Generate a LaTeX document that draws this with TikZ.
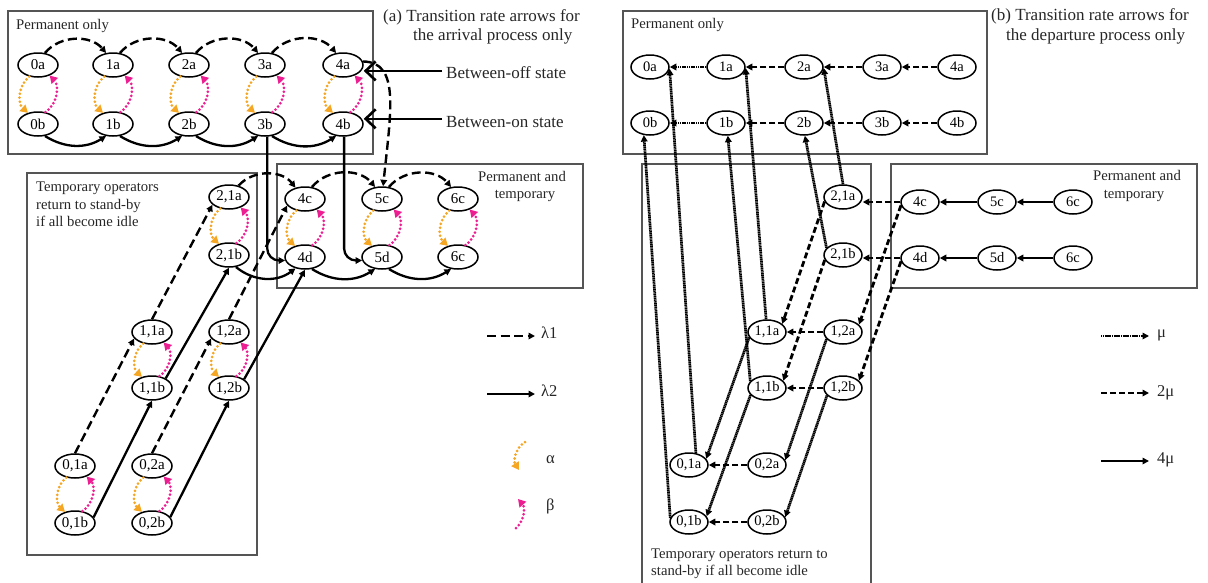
\documentclass[tikz,border=0pt]{standalone}
\usepackage{fontspec}
\setmainfont{Liberation Serif}
\usetikzlibrary{shapes.geometric,arrows.meta}
\definecolor{alphaorange}{RGB}{245,166,35}
\definecolor{betapink}{RGB}{236,30,145}
\definecolor{framegray}{RGB}{85,85,85}
\begin{document}
\begin{tikzpicture}[x=1pt,y=-1pt,
  state/.style={ellipse,draw,line width=1.5pt,minimum width=40pt,minimum height=24pt,inner sep=0pt,font=\fontsize{15}{15}\selectfont},
  stateb/.style={state,minimum width=38pt,minimum height=24pt,font=\fontsize{14.5}{15}\selectfont},
  frame/.style={draw=framegray,line width=1.1pt},
  boxtext/.style={font=\fontsize{14.7}{17}\selectfont,inner sep=0pt,text=black!85,anchor=base west},
  bigtext/.style={font=\fontsize{17}{20}\selectfont,inner sep=0pt,text=black!85,anchor=base west},
  legtext/.style={font=\fontsize{16.5}{18}\selectfont,inner sep=0pt,text=black!85,anchor=base west},
  tip/.style={-{Triangle[length=6.5pt,width=6.5pt]}},
  lamA/.style={tip,line width=2.4pt,dash pattern=on 9pt off 4.5pt},
  lamB/.style={tip,line width=2.3pt},
  alphaA/.style={draw=alphaorange,line width=3pt,line cap=round,dash pattern=on 0pt off 4pt,-{Triangle[length=7.5pt,width=8.5pt]}},
  betaA/.style={alphaA,draw=betapink},
  muB/.style={tip,line width=2.7pt,dash pattern=on 1.3pt off 0.5pt},
  twomuB/.style={tip,line width=2.8pt,dash pattern=on 6pt off 3pt},
  fourmuB/.style={tip,line width=2.8pt},
  barb/.style={line width=2.6pt,-{Straight Barb[length=10pt,width=19pt]}},
]
\useasboundingbox (0,0) rectangle (1208,582);

%% ---------------- (a) arrival process ----------------
\draw[frame] (8,11) rectangle (373,154);
\draw[frame] (27,173) rectangle (257,555);
\draw[frame] (277,164) rectangle (583,288);

\node[boxtext] (permAtxt) at (16,29.3) {Permanent only};
\node[boxtext] (tempAtxt1) at (36,191.7) {Temporary operators};
\node[boxtext] (tempAtxt2) at (36,209.3) {return to stand-by};
\node[boxtext] (tempAtxt3) at (36,226.5) {if all become idle};
\node[boxtext,anchor=base] (mixAtxt1) at (522,181.7) {Permanent and};
\node[boxtext,anchor=base] (mixAtxt2) at (525,198.3) {temporary};
\node[bigtext] (titleA1) at (383,21) {(a) Transition rate arrows for};
\node[bigtext] (titleA2) at (413,40.7) {the arrival process only};

% permanent-only states
\foreach \i/\x in {0/38,1/113,2/189,3/265,4/343}{
  \node[state] (aT\i) at (\x,65) {\i a};
  \node[state] (aB\i) at (\x,124) {\i b};
}
% temporary states
\node[state] (a21a) at (229,197) {2,1a};
\node[state] (a21b) at (229,255) {2,1b};
\node[state] (a11a) at (152,332) {1,1a};
\node[state] (a11b) at (152,388) {1,1b};
\node[state] (a12a) at (229,332) {1,2a};
\node[state] (a12b) at (229,388) {1,2b};
\node[state] (a01a) at (75,466) {0,1a};
\node[state] (a01b) at (75,523) {0,1b};
\node[state] (a02a) at (152,466) {0,2a};
\node[state] (a02b) at (152,523) {0,2b};
% permanent and temporary states
\node[state] (a4c) at (305,199) {4c};
\node[state] (a5c) at (382,199) {5c};
\node[state] (a6c) at (458,199) {6c};
\node[state] (a4d) at (305,257) {4d};
\node[state] (a5d) at (382,257) {5d};
\node[state] (a6d) at (458,257) {6c};

% arrivals along the permanent rows
\foreach \i [evaluate=\i as \j using int(\i+1)] in {0,...,3}{
  \draw[lamA] (aT\i.60) to[bend left=50] (aT\j.120);
  \draw[lamB] (aB\i.-60) to[bend right=32] (aB\j.-120);
}
% into the mixed box
\draw[lamB,rounded corners=12pt] (aB3.-80) |- (a4d.190);
\draw[lamB,rounded corners=12pt] (aB4.-85) |- (a5d.190);
\draw[lamA] (aT4.10) .. controls (400,62) and (391,110) .. (a5c.85);
\draw[lamA] (a21a.50) to[bend left=50] (a4c.130);
\draw[lamA] (a4c.60) to[bend left=50] (a5c.120);
\draw[lamA] (a5c.60) to[bend left=50] (a6c.120);
\draw[lamB] (a21b.-60) to[bend right=38] (a4d.-130);
\draw[lamB] (a4d.-60) to[bend right=32] (a5d.-120);
\draw[lamB] (a5d.-60) to[bend right=32] (a6d.-120);
% temporary diagonals
\draw[lamA] (a01a.north) -- (a11a.200);
\draw[lamA] (a11a.north) -- (a21a.205);
\draw[lamA] (a02a.north) -- (a12a.200);
\draw[lamA] (a12a.north) -- (a4c.200);
\draw[lamB] (a01b.17) -- (a11b.south);
\draw[lamB] (a11b.35) -- (a21b.south);
\draw[lamB] (a02b.18) -- (a12b.south);
\draw[lamB] (a12b.30) -- (a4d.south);

% on/off switching
\foreach \u/\d in {aT0/aB0,aT1/aB1,aT2/aB2,aT3/aB3,aT4/aB4,a21a/a21b,a11a/a11b,a12a/a12b,a01a/a01b,a02a/a02b,a4c/a4d,a5c/a5d,a6c/a6d}{
  \draw[alphaA] (\u.-127) to[bend right=50] (\d.132);
  \draw[betaA] (\d.58) to[bend right=50] (\u.-42);
}

% state annotations
\node[bigtext,inner xsep=4pt] (boff) at (442,78.3) {Between-off state};
\node[bigtext,inner xsep=4pt] (bon) at (442,127.3) {Between-on state};
\draw[barb] ([yshift=1.5pt]boff.west) -- ([yshift=1.5pt]boff.west -| aT4.east);
\draw[barb] ([yshift=3pt]bon.west) -- ([yshift=3pt]bon.west -| aB4.east);

% legend (a)
\coordinate (lgAa) at (487,336);  \coordinate (lgAb) at (535,336);
\coordinate (lgBa) at (487,394);  \coordinate (lgBb) at (535,394);
\coordinate (lgCa) at (525,442);  \coordinate (lgCb) at (519,470);
\coordinate (lgDa) at (516,528);  \coordinate (lgDb) at (518,499);
\draw[lamA] (lgAa) -- (lgAb);
\draw[lamB] (lgBa) -- (lgBb);
\draw[alphaA] (lgCa) to[bend right=45] (lgCb);
\draw[betaA] (lgDa) to[bend right=45] (lgDb);
\node[legtext] (lgAt) at (541,338.5) {λ1};
\node[legtext] (lgBt) at (541,396.5) {λ2};
\node[legtext] (lgCt) at (546,463) {α};
\node[legtext] (lgDt) at (546,510) {β};

%% ---------------- (b) departure process ----------------
\draw[frame] (623,11) rectangle (987,154);
\draw[frame] (642,164) rectangle (871,600);
\draw[frame] (891,164) rectangle (1197,288);

\node[boxtext] (permBtxt) at (631,28.3) {Permanent only};
\node[boxtext] (tempBtxt1) at (651,558.3) {Temporary operators return to};
\node[boxtext] (tempBtxt2) at (651,575.7) {stand-by if all become idle};
\node[boxtext,anchor=base] (mixBtxt1) at (1137,180.7) {Permanent and};
\node[boxtext,anchor=base] (mixBtxt2) at (1134,198.3) {temporary};
\node[bigtext] (titleB1) at (991,20.7) {(b) Transition rate arrows for};
\node[bigtext] (titleB2) at (1006,40.7) {the departure process only};

\foreach \i/\x in {0/650,1/726,2/804,3/882,4/957}{
  \node[stateb] (bT\i) at (\x,67) {\i a};
  \node[stateb] (bB\i) at (\x,123) {\i b};
}
\node[stateb] (b21a) at (843,197) {2,1a};
\node[stateb] (b21b) at (843,255) {2,1b};
\node[stateb] (b11a) at (767,332) {1,1a};
\node[stateb] (b12a) at (843,332) {1,2a};
\node[stateb] (b11b) at (767,388) {1,1b};
\node[stateb] (b12b) at (843,388) {1,2b};
\node[stateb] (b01a) at (689,465) {0,1a};
\node[stateb] (b02a) at (767,465) {0,2a};
\node[stateb] (b01b) at (689,522) {0,1b};
\node[stateb] (b02b) at (767,522) {0,2b};
\node[stateb] (b4c) at (920,202) {4c};
\node[stateb] (b5c) at (997,202) {5c};
\node[stateb] (b6c) at (1073,202) {6c};
\node[stateb] (b4d) at (920,258) {4d};
\node[stateb] (b5d) at (997,258) {5d};
\node[stateb] (b6d) at (1073,258) {6c};

% departures along the permanent rows
\draw[muB] (bT1) -- (bT0);
\draw[muB] (bB1) -- (bB0);
\foreach \i [evaluate=\i as \j using int(\i-1)] in {2,3,4}{
  \draw[twomuB] (bT\i) -- (bT\j);
  \draw[twomuB] (bB\i) -- (bB\j);
}
% mixed box
\draw[fourmuB] (b6c) -- (b5c);
\draw[fourmuB] (b5c) -- (b4c);
\draw[fourmuB] (b6d) -- (b5d);
\draw[fourmuB] (b5d) -- (b4d);
\draw[twomuB] (b4c.west) -- (b4c.west -| b21a.east);
\draw[twomuB] (b4d.west) -- (b4d.west -| b21b.east);
\draw[twomuB] (b4c.190) -- (b12a.25);
\draw[twomuB] (b4d.190) -- (b12b.25);
% temporary box
\draw[twomuB] (b21a.194) -- (b11a.28);
\draw[twomuB] (b21b.195) -- (b11b.24);
\draw[twomuB] (b12a) -- (b11a);
\draw[twomuB] (b12b) -- (b11b);
\draw[twomuB] (b02a) -- (b01a);
\draw[twomuB] (b02b) -- (b01b);
% single-server departures
\draw[muB] (b01b.168) -- (bB0.243);
\draw[muB] (b01a.60) -- (bT0.-5);
\draw[muB] (b11b.158) -- (bB1.-82);
\draw[muB] (b11a.94) -- (bT1.-3);
\draw[muB] (b21b.157) -- (bB2.-86);
\draw[muB] (b21a.90) -- (bT2.-3);
\draw[muB] (b11a.197) -- (b01a.20);
\draw[muB] (b11b.203) -- (b01b.18);
\draw[muB] (b12a.203) -- (b02a.15);
\draw[muB] (b12b.205) -- (b02b.15);

% legend (b)
\coordinate (lgEa) at (1101,336);   \coordinate (lgEb) at (1149,336);
\coordinate (lgFa) at (1101,393);   \coordinate (lgFb) at (1149,393);
\coordinate (lgGa) at (1101,461);   \coordinate (lgGb) at (1149,461);
\draw[muB] (lgEa) -- (lgEb);
\draw[twomuB] (lgFa) -- (lgFb);
\draw[fourmuB] (lgGa) -- (lgGb);
\node[legtext] (lgEt) at (1157,337) {μ};
\node[legtext] (lgFt) at (1157,396) {2μ};
\node[legtext] (lgGt) at (1157,463.5) {4μ};
\end{tikzpicture}
\end{document}
